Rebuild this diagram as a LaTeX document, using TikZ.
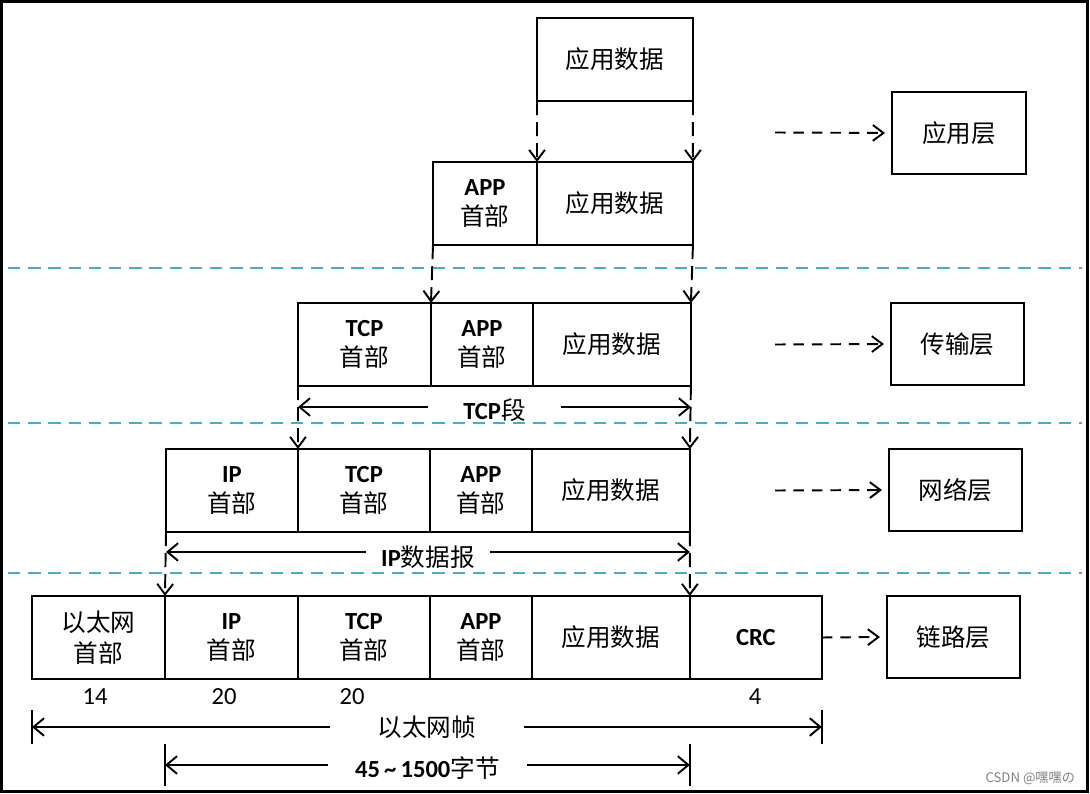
\documentclass[tikz,border=0pt]{standalone}
\usepackage{fontspec}
\setmainfont{Carlito}
\newfontfamily\cjk{Noto Sans CJK SC}
\newcommand{\hz}[1]{{\cjk\mdseries #1}}
\usetikzlibrary{arrows.meta, positioning}
\definecolor{sepblue}{HTML}{4BACC6}

\begin{document}
\begin{tikzpicture}[
    x=0.02cm, y=-0.02cm,
    every node/.style={inner sep=0pt, outer sep=0pt},
    blk/.style={draw, line width=1.1pt, minimum height=1.66cm, align=center,
        anchor=north west, font=\fontsize{14}{17.5}\selectfont},
    layer/.style={draw, line width=1.1pt, minimum width=2.66cm, minimum height=1.64cm,
        anchor=north west, font=\fontsize{14}{17.5}\selectfont},
    drop/.style={-{Straight Barb[length=6pt,width=9pt]}, line width=1.1pt, dash pattern=on 8pt off 4pt},
    hop/.style={-{Straight Barb[length=6pt,width=9pt]}, line width=1.1pt, dash pattern=on 6pt off 4.5pt, shorten >=0.14cm},
    span/.style={{Straight Barb[length=6pt,width=10pt]}-{Straight Barb[length=6pt,width=10pt]}, line width=1.1pt},
    tick/.style={line width=1.1pt},
    sep/.style={draw=sepblue, line width=1.2pt, dash pattern=on 7pt off 4.5pt},
    lbl/.style={fill=white, font=\fontsize{14}{16}\selectfont\bfseries},
    num/.style={font=\fontsize{14}{16}\selectfont}
]
\useasboundingbox (0,0) rectangle (1090,794);
\draw[line width=1.7pt] (1.5,1.5) rectangle (1087.5,791.5);

% layer separators
\draw[sep] (8,268) -- (1082,268);
\draw[sep] (8,423) -- (1082,423);
\draw[sep] (8,573) -- (1082,573);

% application data
\node[blk, minimum width=3.12cm] (data1) at (537,18) {\hz{应用数据}};

\node[blk, minimum width=2.08cm] (app2) at (433,162) {\textbf{APP}\\\hz{首部}};
\node[blk, minimum width=3.12cm, right=0pt of app2] (data2) {\hz{应用数据}};

% tcp segment
\node[blk, minimum width=2.66cm] (tcp3) at (298,303) {\textbf{TCP}\\\hz{首部}};
\node[blk, minimum width=2.04cm, right=0pt of tcp3] (app3) {\textbf{APP}\\\hz{首部}};
\node[blk, minimum width=3.16cm, right=0pt of app3] (data3) {\hz{应用数据}};

% ip datagram
\node[blk, minimum width=2.64cm] (ip4) at (166,449) {\textbf{IP}\\\hz{首部}};
\node[blk, minimum width=2.64cm, right=0pt of ip4] (tcp4) {\textbf{TCP}\\\hz{首部}};
\node[blk, minimum width=2.04cm, right=0pt of tcp4] (app4) {\textbf{APP}\\\hz{首部}};
\node[blk, minimum width=3.16cm, right=0pt of app4] (data4) {\hz{应用数据}};

% ethernet frame
\node[blk, minimum width=2.66cm] (eth5) at (32,596) {\hz{以太网}\\\hz{首部}};
\node[blk, minimum width=2.66cm, right=0pt of eth5] (ip5) {\textbf{IP}\\\hz{首部}};
\node[blk, minimum width=2.64cm, right=0pt of ip5] (tcp5) {\textbf{TCP}\\\hz{首部}};
\node[blk, minimum width=2.04cm, right=0pt of tcp5] (app5) {\textbf{APP}\\\hz{首部}};
\node[blk, minimum width=3.16cm, right=0pt of app5] (data5) {\hz{应用数据}};
\node[blk, minimum width=2.64cm, right=0pt of data5] (crc5) {\textbf{CRC}};

% layers
\node[layer, minimum width=2.68cm] (applayer) at (892,92) {\hz{应用层}};
\node[layer] (translayer) at (891,303) {\hz{传输层}};
\node[layer] (netlayer) at (889,449) {\hz{网络层}};
\node[layer] (linklayer) at (887,596) {\hz{链路层}};

% encapsulation
\draw[drop] (data1.south west) -- (data2.north west);
\draw[drop] (data1.south east) -- (data2.north east);
\draw[drop] (app2.south west) -- (app3.north west);
\draw[drop] (data2.south east) -- (data3.north east);
\draw[drop] (tcp3.south west) -- (tcp4.north west);
\draw[drop] (data3.south east) -- (data4.north east);
\draw[drop] (ip4.south west) -- (ip5.north west);
\draw[drop] (data4.south east) -- (data5.north east);

\coordinate (a1) at (775,132.5);
\coordinate (a2) at (775,344.5);
\coordinate (a3) at (775,490.5);
\draw[hop] (a1) -- (applayer.west);
\draw[hop] (a2) -- (translayer.west);
\draw[hop] (a3) -- (netlayer.west);
\draw[hop] (crc5.east) -- (linklayer.west);

% lengths
\coordinate (tcpy) at (0,407);
\coordinate (ipy) at (0,552);
\coordinate (ethy) at (0,727);
\coordinate (payy) at (0,765);
\draw[span] (tcp3.west |- tcpy) -- node[lbl, inner xsep=0.7cm, yshift=-2pt] (tcplbl) {TCP\hz{段}} (data3.east |- tcpy);
\draw[span] (ip4.west |- ipy) -- node[lbl, inner xsep=0.3cm, yshift=-3pt] (iplbl) {IP\hz{数据报}} (data4.east |- ipy);
\draw[span] (eth5.west |- ethy) -- node[lbl, inner xsep=0.95cm] (ethlbl) {\hz{以太网帧}} (crc5.east |- ethy);
\draw[span] (ip5.west |- payy) -- node[lbl, inner xsep=0.55cm, yshift=-2pt] (paylbl) {45\,\textasciitilde\,1500\hz{字节}} (data5.east |- payy);
\draw[tick] (eth5.west |- ethy) ++(0,-17) -- ++(0,34);
\draw[tick] (crc5.east |- ethy) ++(0,-17) -- ++(0,34);
\draw[tick] (ip5.west |- payy) ++(0,-21) -- ++(0,42);
\draw[tick] (data5.east |- payy) ++(0,-21) -- ++(0,42);

\node[num] (n14) at (95,697) {14};
\node[num] (n20a) at (224,697) {20};
\node[num] (n20b) at (352,697) {20};
\node[num] (n4) at (755,697) {4};

\node[anchor=east, text=gray, font=\fontsize{7.5}{9}\selectfont] (mark) at (1075,778) {\hz{CSDN @嘿嘿の}};
\end{tikzpicture}
\end{document}
